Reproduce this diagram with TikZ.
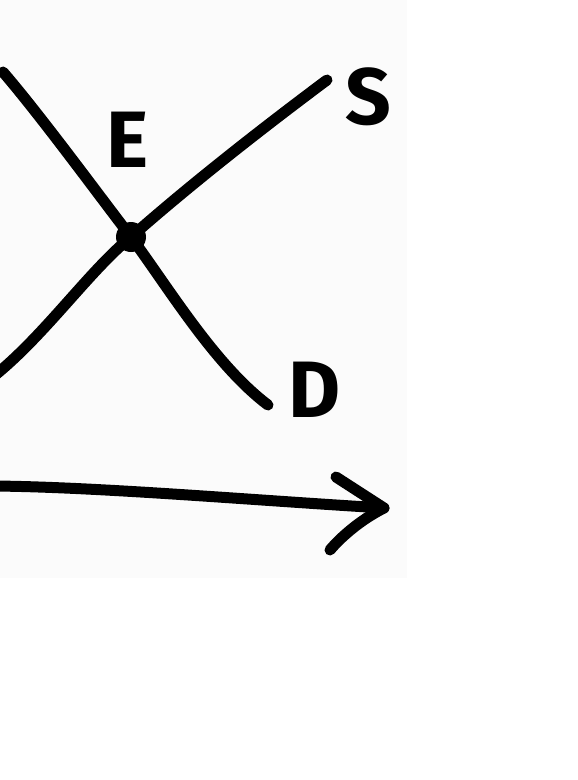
\documentclass[tikz,border=0pt]{standalone}
\usepackage{fontspec}
\setsansfont{Fira Sans}
\begin{document}
\begin{tikzpicture}[x=1pt,y=-1pt,
  curve/.style={line width=11pt,line cap=round,line join=round},
  lbl/.style={font=\sffamily\bfseries\fontsize{80}{80}\selectfont,inner sep=0pt}]
\useasboundingbox (0,0) rectangle (578,780);
\fill[white] (0,0) rectangle (578,780);
\fill[black!1.5] (0,0) rectangle (407,578);
% equilibrium
\node[circle,fill=black,minimum size=30pt,inner sep=0pt] (E) at (131,237) {};
\coordinate (dtop) at (3,72);
\coordinate (dend) at (268,405);
\coordinate (sbot) at (-6,376);
\coordinate (stop) at (327,80);
% demand
\draw[curve] (dtop) .. controls (40,115) and (95,190) .. (E.center)
  .. controls (170,290) and (215,365) .. (dend);
% supply
\draw[curve] (sbot) .. controls (45,335) and (90,270) .. (E.center)
  .. controls (190,185) and (260,130) .. (stop);
% labels
\node[lbl] (S) at (368,97) {S};
\node[lbl] (Elbl) at (128,140) {E};
\node[lbl] (D) at (315,390) {D};
% axis arrow
\coordinate (a0) at (-6,486);
\coordinate (tip) at (384,508);
\coordinate (armU) at (336,477);
\coordinate (armL) at (330,550);
\draw[curve] (a0) .. controls (100,487) and (250,500) .. (tip);
\draw[curve] (armU) -- (tip) .. controls (360,520) and (340,538) .. (armL);
\end{tikzpicture}
\end{document}
